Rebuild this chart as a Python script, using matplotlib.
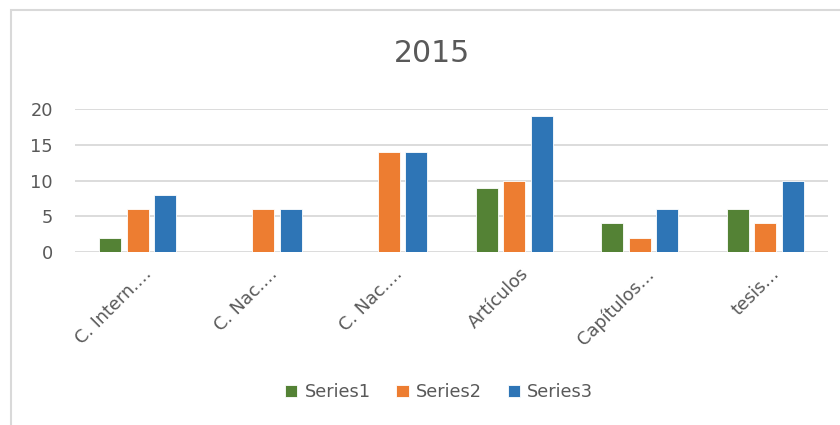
import matplotlib.pyplot as plt
import matplotlib.transforms as mtransforms
from matplotlib.patches import Rectangle
import numpy as np

# datos del grafico
categorias = ["C. Intern.…", "C. Nac.…", "C. Nac.…", "Artículos", "Capítulos…", "tesis…"]
series1 = [2, 0, 0, 9, 4, 6]
series2 = [6, 6, 14, 10, 2, 4]
series3 = [8, 6, 14, 19, 6, 10]
nombres = ["Series1", "Series2", "Series3"]
colores = ["#548235", "#ED7D31", "#2E75B6"]

plt.rcParams['font.family'] = ['DejaVu Sans']
gris = "#595959"

fig = plt.figure(figsize=(8.4, 4.25), dpi=100)
ax = fig.add_axes([75 / 840, (425 - 252) / 425, (828 - 75) / 840, (252 - 109) / 425])

x = np.arange(len(categorias))
ancho = 0.175
paso = 0.22
for i, (vals, nom, col) in enumerate(zip([series1, series2, series3], nombres, colores)):
    ax.bar(x + (i - 1) * paso, vals, width=ancho, color=col, label=nom,
           edgecolor="white", linewidth=0.6, zorder=3)

ax.set_xlim(-0.5, len(categorias) - 0.5)
ax.set_ylim(0, 20)
ax.set_yticks([0, 5, 10, 15, 20])
ax.grid(axis='y', color="#D9D9D9", linewidth=1.3, zorder=0)
for s in ax.spines.values():
    s.set_visible(False)
ax.tick_params(axis='both', length=0, labelsize=12.8, labelcolor=gris)
ax.tick_params(axis='y', pad=16)

ax.set_xticks(x)
ax.set_xticklabels(categorias, rotation=45, ha='right', va='top', rotation_mode='anchor')
desplaz = mtransforms.ScaledTranslation(5 / 100, -8 / 100, fig.dpi_scale_trans)
for lab in ax.get_xticklabels():
    lab.set_transform(lab.get_transform() + desplaz)

fig.text(432 / 840, 1 - 53 / 425, "2015", ha='center', va='center', fontsize=21.5, color=gris)

ax.legend(loc='center', bbox_to_anchor=(439 / 840, 1 - 392 / 425), bbox_transform=fig.transFigure,
          ncol=3, frameon=False, fontsize=12.8, labelcolor=gris, handlelength=0.7, handleheight=0.7,
          handletextpad=0.4, columnspacing=1.45)

# borde del grafico
fig.patches.append(Rectangle((10.5 / 840, -0.1), 1.2, 1 - 10.5 / 425 + 0.1, transform=fig.transFigure,
                             fill=False, edgecolor="#D9D9D9", linewidth=1.5))

fig.savefig("out.png", dpi=100)
